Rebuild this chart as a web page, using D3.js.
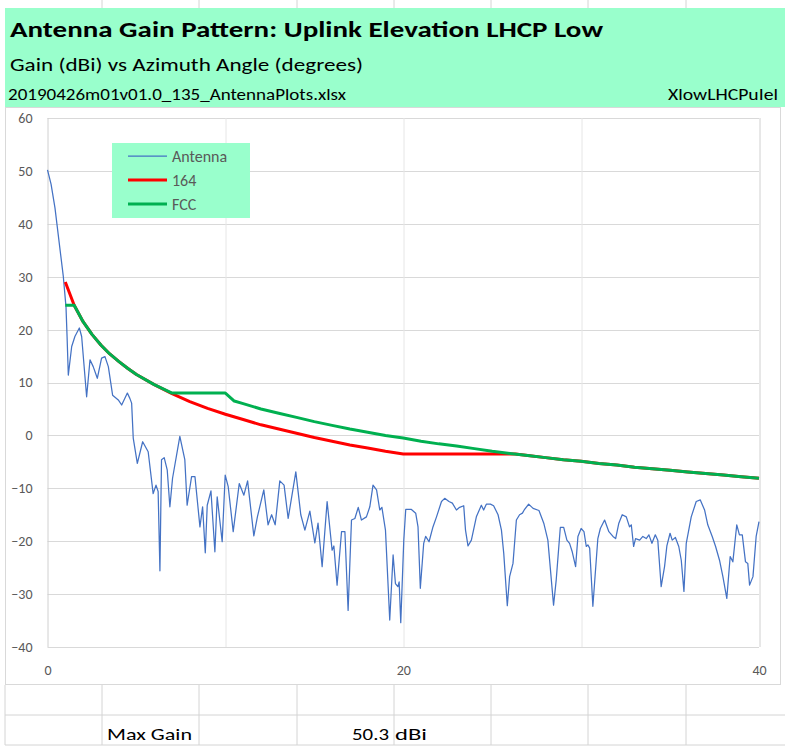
<!DOCTYPE html>
<html>
<head>
<meta charset="utf-8">
<script src="https://cdn.jsdelivr.net/npm/d3@7"></script>
<style>
  body { margin: 0; background: #fff; }
  text { font-family: Calibri, Carlito, Lato, sans-serif; }
</style>
</head>
<body>
<div id="wrapper"></div>
<script>
// antenna measurement (angle in degrees, gain in dBi)
const antennaAngle = [0, 0.2, 0.42, 0.89, 1.04, 1.1, 1.17, 1.36, 1.54, 1.79, 1.92, 2.2, 2.39, 2.57, 2.8, 3.04, 3.23, 3.42, 3.66, 3.98,
  4.17, 4.49, 4.63, 4.73, 4.82, 5.05, 5.35, 5.66, 5.94, 6.1, 6.22, 6.32, 6.41, 6.56, 6.73, 6.88, 7.03, 7.44, 7.72, 7.85,
  8.1, 8.29, 8.57, 8.72, 8.87, 8.98, 9.19, 9.41, 9.54, 9.82, 9.99, 10.16, 10.44, 10.78, 11.04, 11.25, 11.6, 11.8, 12.16, 12.4,
  12.6, 12.8, 13.06, 13.3, 13.53, 13.96, 14.24, 14.47, 14.75, 15.03, 15.21, 15.44, 15.72, 16.0, 16.1, 16.28, 16.53, 16.72, 16.9, 17.09,
  17.28, 17.47, 17.65, 17.93, 18.12, 18.3, 18.5, 18.68, 18.8, 19.0, 19.24, 19.43, 19.56, 19.7, 19.77, 19.86, 20.03, 20.14, 20.46, 20.7,
  20.83, 20.96, 21.15, 21.26, 21.45, 21.67, 21.87, 22.15, 22.33, 22.57, 22.76, 22.99, 23.17, 23.4, 23.5, 23.64, 23.83, 24.11, 24.39, 24.52,
  24.67, 24.9, 25.08, 25.33, 25.52, 25.65, 25.85, 25.98, 26.17, 26.36, 26.54, 26.7, 26.8, 27.05, 27.3, 27.63, 27.9, 28.13, 28.45, 28.6,
  28.83, 29.02, 29.2, 29.35, 29.5, 29.69, 29.82, 30.0, 30.16, 30.29, 30.38, 30.48, 30.66, 30.94, 31.08, 31.32, 31.56, 31.79, 31.94, 32.12,
  32.31, 32.54, 32.72, 32.82, 32.95, 33.06, 33.29, 33.47, 33.66, 33.81, 33.98, 34.17, 34.31, 34.5, 34.69, 34.82, 35.0, 35.12, 35.3, 35.49,
  35.63, 35.78, 35.91, 36.19, 36.47, 36.7, 36.94, 37.12, 37.37, 37.56, 37.78, 37.97, 38.19, 38.38, 38.53, 38.75, 38.9, 39.06, 39.24, 39.37,
  39.47, 39.66, 39.84, 40.0]
const antennaGain = [50.2, 47.5, 43, 30, 24.3, 18.7, 11.4, 16.8, 18.7, 20.3, 18.7, 7.3, 14.3, 13.0, 10.8, 14.6, 14.9, 13.0, 7.6, 6.7,
  5.75, 8.0, 7.0, 6.1, -0.5, -5.3, -1.2, -3.1, -11.0, -9.4, -10.6, -25.6, -4.6, -4.2, -6.5, -13.5, -8.1, -0.2, -4.6, -13.2,
  -7.8, -7.8, -17.3, -13.5, -22.2, -13.2, -10.5, -22.0, -11.6, -20.1, -7.5, -9.7, -18.2, -9.1, -11.3, -8.6, -19.0, -15.4, -10.3, -16.9,
  -15.0, -16.9, -8.6, -9.4, -15.7, -6.9, -15.0, -17.9, -14.3, -20.3, -16.6, -24.8, -12.5, -21.7, -20.9, -28.3, -18.2, -18.2, -33.1, -16.0,
  -15.7, -13.6, -16.0, -15.4, -13.5, -9.4, -10.3, -14.1, -13.6, -17.9, -34.9, -22.6, -28.0, -28.6, -27.7, -35.4, -19.8, -14.0, -14.0, -14.7,
  -17.3, -28.9, -20.4, -19.1, -20.1, -17.3, -15.4, -12.5, -11.9, -12.5, -12.8, -14.1, -13.6, -13.3, -17.9, -20.9, -19.8, -15.4, -13.2, -14.1,
  -13.0, -13.0, -13.3, -15.0, -17.9, -22.3, -32.2, -26.7, -24.2, -16.0, -15.0, -14.7, -14.1, -13.0, -13.8, -14.2, -16.6, -19.8, -32.1, -27.3,
  -17.4, -17.4, -19.8, -20.4, -22.0, -24.8, -19.1, -17.6, -18.2, -21.0, -20.7, -21.3, -32.3, -19.5, -17.6, -16.0, -18.2, -19.1, -19.5, -16.6,
  -15.0, -15.4, -17.3, -16.9, -21.0, -19.5, -19.8, -19.1, -19.5, -18.8, -20.4, -18.8, -19.8, -28.6, -24.8, -20.9, -18.5, -19.8, -19.3, -21.0,
  -23.6, -29.5, -20.4, -15.4, -12.5, -12.2, -14.1, -16.9, -19.1, -21.0, -23.6, -26.7, -30.8, -22.9, -23.9, -16.9, -18.8, -18.8, -23.9, -24.2,
  -28.3, -26.7, -19.1, -16.3]

// 164 mask
const maskAngle = [1, 1.5, 2, 2.5, 3, 3.5, 4, 4.5, 5, 6, 7, 8, 9, 10, 11, 12, 13, 14, 15, 16,
  17, 18, 19, 20, 26.3, 27, 28, 29, 30, 31, 32, 33, 34, 35, 36, 37, 38, 39, 40]
const maskGain = [29.0, 24.6, 21.5, 19.1, 17.1, 15.4, 14.0, 12.7, 11.5, 9.6, 7.9, 6.4, 5.1, 4.0, 3.0, 2.0, 1.2, 0.4, -0.4, -1.1,
  -1.8, -2.4, -3.0, -3.5, -3.5, -3.8, -4.2, -4.6, -4.9, -5.3, -5.6, -6.0, -6.3, -6.6, -6.9, -7.2, -7.5, -7.8, -8.1]

// FCC mask
const fccAngle = [1, 1.5, 2, 2.5, 3, 3.5, 4, 4.5, 5, 6, 7, 8, 9, 10, 10.5, 11, 12, 13, 14, 15,
  16, 17, 18, 19, 20, 21, 22, 23, 24, 25, 26, 27, 28, 29, 30, 31, 32, 33, 34, 35,
  36, 37, 38, 39, 40]
const fccGain = [24.6, 24.6, 21.5, 19.1, 17.1, 15.4, 14.0, 12.7, 11.5, 9.6, 8.0, 8.0, 8.0, 8.0, 6.5, 6.0, 5.0, 4.2, 3.4, 2.6,
  1.9, 1.2, 0.6, 0.0, -0.5, -1.1, -1.6, -2.0, -2.5, -3.0, -3.4, -3.8, -4.2, -4.6, -4.9, -5.3, -5.6, -6.0, -6.3, -6.6,
  -6.9, -7.2, -7.5, -7.8, -8.1]

const xTicks = [0, 20, 40]
const xGrid = [0, 10, 20, 30, 40]
const yTicks = [-40, -30, -20, -10, 0, 10, 20, 30, 40, 50, 60]
const seriesNames = ['Antenna', '164', 'FCC']
const seriesColors = ['#4472C4', '#FF0000', '#00B050']
const seriesWidths = [1.25, 3, 3]

function drawChart() {
  const zip = (a, b) => a.map((v, i) => [v, b[i]])
  const lines = [
    zip(antennaAngle, antennaGain),
    zip(maskAngle, maskGain),
    zip(fccAngle, fccGain)
  ]

  //dimensions
  let dimensions = {
    width: 785,
    height: 750,
    margin: { top: 118, right: 26, bottom: 103, left: 47.5 }
  }
  dimensions.boundedWidth = dimensions.width - dimensions.margin.left - dimensions.margin.right
  dimensions.boundedHeight = dimensions.height - dimensions.margin.top - dimensions.margin.bottom

  const svg = d3.select('#wrapper')
    .append('svg')
      .attr('width', dimensions.width)
      .attr('height', dimensions.height)

  //spreadsheet cells behind the chart
  const cellLines = [5, 102, 199, 297, 394, 491, 588, 686]
  const sheet = svg.append('g')
  sheet.selectAll('.top-col')
    .data(cellLines.slice(1))
    .join('line')
      .attr('x1', d => d).attr('x2', d => d)
      .attr('y1', 0).attr('y2', 8)
      .attr('stroke', '#d4d4d4')
  sheet.append('rect')
    .attr('x', 5).attr('y', 8)
    .attr('width', 780).attr('height', 99)
    .attr('fill', '#99FFCC')

  sheet.selectAll('.bottom-col')
    .data(cellLines)
    .join('line')
      .attr('x1', d => d).attr('x2', d => d)
      .attr('y1', 685).attr('y2', 745)
      .attr('stroke', '#d4d4d4')
  sheet.selectAll('.bottom-row')
    .data([715, 745])
    .join('line')
      .attr('x1', 5).attr('x2', 785)
      .attr('y1', d => d).attr('y2', d => d)
      .attr('stroke', '#d4d4d4')

  //header texts
  const header = svg.append('g')
  header.append('text')
    .attr('x', 10).attr('y', 37)
    .attr('font-size', 22).attr('font-weight', 'bold')
    .attr('textLength', 593).attr('lengthAdjust', 'spacingAndGlyphs')
    .attr('fill', '#000')
    .text('Antenna Gain Pattern: Uplink Elevation LHCP Low')
  header.append('text')
    .attr('x', 10).attr('y', 71)
    .attr('font-size', 18)
    .attr('textLength', 353).attr('lengthAdjust', 'spacingAndGlyphs')
    .attr('fill', '#000')
    .text('Gain (dBi) vs Azimuth Angle (degrees)')
  header.append('text')
    .attr('x', 8).attr('y', 100)
    .attr('font-size', 16)
    .attr('textLength', 338).attr('lengthAdjust', 'spacingAndGlyphs')
    .attr('fill', '#000')
    .text('20190426m01v01.0_135_AntennaPlots.xlsx')
  header.append('text')
    .attr('x', 668).attr('y', 100)
    .attr('font-size', 16)
    .attr('textLength', 110).attr('lengthAdjust', 'spacingAndGlyphs')
    .attr('fill', '#000')
    .text('XlowLHCPuIel')

  //chart object
  svg.append('rect')
    .attr('x', 5.5).attr('y', 107.5)
    .attr('width', 775).attr('height', 577)
    .attr('fill', '#fff')
    .attr('stroke', '#d9d9d9')

  //bottom table texts
  const table = svg.append('g').attr('font-size', 17).attr('fill', '#000')
  table.append('text')
    .attr('x', 107).attr('y', 740)
    .attr('textLength', 85).attr('lengthAdjust', 'spacingAndGlyphs')
    .text('Max Gain')
  table.append('text')
    .attr('x', 352).attr('y', 740)
    .attr('textLength', 37).attr('lengthAdjust', 'spacingAndGlyphs')
    .text('50.3')
  table.append('text')
    .attr('x', 395).attr('y', 740)
    .attr('textLength', 32).attr('lengthAdjust', 'spacingAndGlyphs')
    .text('dBi')

  const bounds = svg.append('g')
    .attr('transform', `translate(${dimensions.margin.left}, ${dimensions.margin.top})`)

  //scales
  const xScale = d3.scaleLinear()
    .domain([0, 40])
    .range([0, dimensions.boundedWidth])

  const yScale = d3.scaleLinear()
    .domain([-40, 60])
    .range([dimensions.boundedHeight, 0])

  //gridlines
  bounds.append('g')
    .selectAll('line')
    .data(yTicks)
    .join('line')
      .attr('x1', 0).attr('x2', dimensions.boundedWidth)
      .attr('y1', d => Math.round(yScale(d)) + 0.5)
      .attr('y2', d => Math.round(yScale(d)) + 0.5)
      .attr('stroke', '#d9d9d9')
  bounds.append('g')
    .selectAll('line')
    .data(xGrid)
    .join('line')
      .attr('x1', d => Math.round(xScale(d)) + 0.5)
      .attr('x2', d => Math.round(xScale(d)) + 0.5)
      .attr('y1', 0).attr('y2', dimensions.boundedHeight)
      .attr('stroke', d => (d === 0 || d === 40) ? '#d0d0d0' : '#e6e6e6')

  //axes
  const yAxis = bounds.append('g')
    .call(d3.axisLeft(yScale).tickValues(yTicks).tickSize(0).tickPadding(15))
  yAxis.select('.domain').remove()
  yAxis.selectAll('text')
    .attr('font-size', 14)
    .attr('fill', '#595959')
    .attr('font-family', 'Calibri, Carlito, Lato, sans-serif')

  const xAxis = bounds.append('g')
    .attr('transform', `translate(0, ${dimensions.boundedHeight})`)
    .call(d3.axisBottom(xScale).tickValues(xTicks).tickSize(0).tickPadding(18))
  xAxis.select('.domain').remove()
  xAxis.selectAll('text')
    .attr('font-size', 14)
    .attr('fill', '#595959')
    .attr('font-family', 'Calibri, Carlito, Lato, sans-serif')

  //series
  const lineGenerator = d3.line()
    .x(d => xScale(d[0]))
    .y(d => yScale(d[1]))

  bounds.append('g')
    .selectAll('path')
    .data(lines)
    .join('path')
      .attr('d', lineGenerator)
      .attr('fill', 'none')
      .attr('stroke', (d, i) => seriesColors[i])
      .attr('stroke-width', (d, i) => seriesWidths[i])
      .attr('stroke-linejoin', 'round')

  //legend
  const legend = svg.append('g')
  legend.append('rect')
    .attr('x', 112).attr('y', 143)
    .attr('width', 138).attr('height', 75)
    .attr('fill', '#99FFCC')
  const items = legend.selectAll('.item')
    .data(seriesNames)
    .join('g')
      .attr('transform', (d, i) => `translate(128, ${156 + i * 24})`)
  items.append('line')
    .attr('x1', 0).attr('x2', 39)
    .attr('stroke', (d, i) => seriesColors[i])
    .attr('stroke-width', (d, i) => seriesWidths[i])
  items.append('text')
    .attr('x', 44).attr('dy', '0.35em')
    .attr('font-size', 16)
    .attr('fill', '#595959')
    .text(d => d)
}
drawChart()
</script>
</body>
</html>
